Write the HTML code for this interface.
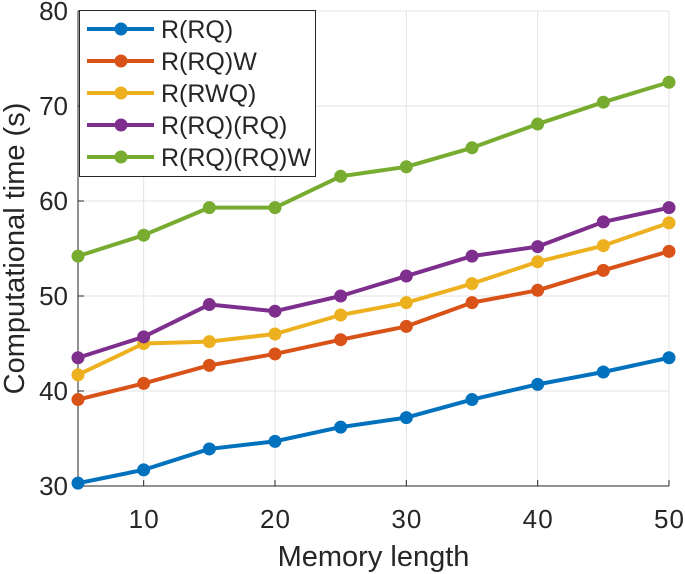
<!DOCTYPE html>
<html><head><meta charset="utf-8"><style>
body{margin:0;background:#fff;}
svg{display:block;font-family:"Liberation Sans",Arial,sans-serif;}
</style></head><body>
<svg id="chart" width="685" height="574"></svg>
<script>
const xCats=[5,10,15,20,25,30,35,40,45,50];
const sRRQ=[30.3,31.7,33.9,34.7,36.2,37.2,39.1,40.7,42.0,43.5];
const sRRQW=[39.1,40.8,42.7,43.9,45.4,46.8,49.3,50.6,52.7,54.7];
const sRRWQ=[41.7,45.0,45.2,46.0,48.0,49.3,51.3,53.6,55.3,57.7];
const sRRQRQ=[43.5,45.7,49.1,48.4,50.0,52.1,54.2,55.2,57.8,59.3];
const sRRQRQW=[54.2,56.4,59.3,59.3,62.6,63.6,65.6,68.1,70.4,72.5];
const xTicks=[10,20,30,40,50];
const yTicks=[30,40,50,60,70,80];
const seriesNames=["R(RQ)","R(RQ)W","R(RWQ)","R(RQ)(RQ)","R(RQ)(RQ)W"];
const seriesColors=["#0072BD","#D95319","#EDB120","#7E2F8E","#77AC30"];
const allSeries=[sRRQ,sRRQW,sRRWQ,sRRQRQ,sRRQRQW];

const L=78,R=669,T=11,B=486;
const xs=v=>L+(v-5)/(50-5)*(R-L);
const ys=v=>B-(v-30)/(80-30)*(B-T);
const svg=document.getElementById('chart');
const NS="http://www.w3.org/2000/svg";
function mk(tag,attrs,parent){const e=document.createElementNS(NS,tag);for(const k in attrs)e.setAttribute(k,attrs[k]);(parent||svg).appendChild(e);return e;}

const grid=mk('g',{});


xTicks.forEach(t=>{mk('line',{x1:xs(t),x2:xs(t),y1:T,y2:B,stroke:'#e3e3e3','stroke-width':1},grid);});
yTicks.forEach(t=>{mk('line',{x1:L,x2:R,y1:ys(t),y2:ys(t),stroke:'#e3e3e3','stroke-width':1},grid);});

const xAxis=mk('g',{});


mk('line',{x1:L,x2:R,y1:B,y2:B,stroke:'#262626','stroke-width':1},xAxis);
xTicks.forEach(t=>{
  mk('line',{x1:xs(t),x2:xs(t),y1:B,y2:B-6,stroke:'#262626'},xAxis);
  const tx=mk('text',{x:xs(t),y:B+42,'text-anchor':'middle','font-size':26,fill:'#262626','textLength':t>9?30:15},xAxis);
  tx.textContent=t;
  
  
});
const yAxis=mk('g',{});


mk('line',{x1:L,x2:L,y1:T,y2:B,stroke:'#262626','stroke-width':1},yAxis);
yTicks.forEach(t=>{
  mk('line',{x1:L,x2:L+6,y1:ys(t),y2:ys(t),stroke:'#262626'},yAxis);
  const tx=mk('text',{x:L-10,y:ys(t)+9,'text-anchor':'end','font-size':26,fill:'#262626'},yAxis);
  tx.textContent=t;
  
  
});
const xt=mk('text',{x:(L+R)/2,y:566,'text-anchor':'middle','font-size':29,fill:'#262626'});
xt.textContent='Memory length';


const yt=mk('text',{x:0,y:0,'text-anchor':'middle','font-size':29,fill:'#262626',transform:`translate(24,${(T+B)/2}) rotate(-90)`});
yt.textContent='Computational time (s)';



allSeries.forEach((s,i)=>{
  const g=mk('g',{});
  
  
  mk('polyline',{points:s.map((v,j)=>xs(xCats[j])+','+ys(v)).join(' '),fill:'none',stroke:seriesColors[i],'stroke-width':4,'stroke-linejoin':'round'},g);
  s.forEach((v,j)=>{
    const c=mk('circle',{cx:xs(xCats[j]),cy:ys(v),r:6.5,fill:seriesColors[i]},g);
    
    
  });
});

const lg=mk('g',{});


mk('rect',{x:79.5,y:10.5,width:236,height:166,fill:'#fff',stroke:'#262626','stroke-width':1},lg);
seriesNames.forEach((n,i)=>{
  const y=29+i*32;
  const e=mk('g',{},lg);
  
  
  mk('line',{x1:87,x2:154,y1:y,y2:y,stroke:seriesColors[i],'stroke-width':4},e);
  mk('circle',{cx:121,cy:y,r:6.5,fill:seriesColors[i]},e);
  const t=mk('text',{x:161,y:y+9,'font-size':25,fill:'#262626'},e);
  t.textContent=n;
});
</script>
</body></html>
